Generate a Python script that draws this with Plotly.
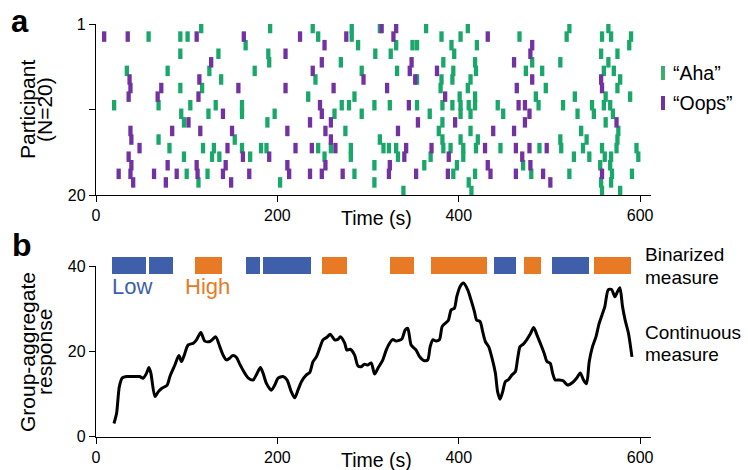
import plotly.graph_objects as go

# ---------------- data ----------------
# Panel a: event times (s) per participant row (1..20)
aha_rows = [
    [116, 192, 239, 282, 313, 364, 410, 522, 565],
    [58, 93, 101, 245, 282, 381, 402, 467, 519, 558, 568, 590],
    [165, 289, 331, 349, 354, 392, 420, 588],
    [93, 135, 190, 308, 325, 395, 557, 575],
    [191, 270, 383, 418, 481, 512, 565],
    [34, 79, 125, 175, 293, 332, 394, 419, 474, 492, 560, 571],
    [138, 242, 354, 381, 393, 413, 578],
    [93, 117, 380, 410, 496, 575],
    [234, 285, 401, 418, 485, 528, 562, 589],
    [20, 69, 104, 132, 161, 271, 279, 307, 324, 354, 382, 393, 402, 411, 418, 443, 488, 515, 547, 560, 567],
    [94, 124, 161, 197, 263, 293, 368, 402, 413, 449, 531, 549, 570],
    [97, 189, 382, 562],
    [275, 378, 413, 535, 576],
    [69, 153, 313, 382, 402, 421, 512, 541, 575],
    [81, 118, 130, 161, 182, 188, 245, 259, 281, 317, 323, 331, 383, 391, 405, 419, 446, 489, 513, 537, 558, 574, 596],
    [97, 128, 136, 170, 252, 281, 333, 369, 405, 527, 544, 561, 568, 598],
    [307, 362, 398, 471, 556, 567],
    [100, 123, 285, 394, 418, 480, 522, 569, 591],
    [113, 203, 307, 411, 557, 568],
    [339, 414, 558, 578],
]
oops_rows = [
    [315, 331],
    [9, 35, 111, 163, 225, 276, 328, 432],
    [252, 481],
    [209, 479],
    [127, 249, 348, 461],
    [239, 346, 376],
    [37, 114, 295, 352, 481, 557],
    [38, 72, 157, 209, 262, 321, 464, 558],
    [36, 68, 113, 385],
    [247, 345, 466, 473],
    [140, 249, 478],
    [102, 236, 259, 355, 396, 473, 574],
    [38, 84, 115, 150, 211, 253, 333, 438, 461],
    [39, 259],
    [48, 145, 220, 238, 264, 342, 370, 429, 463, 478, 497],
    [36, 162, 191, 340, 389, 470],
    [39, 79, 111, 143, 211, 253, 324, 432, 479],
    [25, 38, 64, 89, 112, 140, 169, 213, 236, 249, 272, 323, 353, 388, 435, 463, 493, 558],
    [41, 77, 149, 501],
    [],
]

# Panel b: binarized segments
bin_start = [17.6, 58.4, 109, 165.1, 183.9, 248.8, 323.7, 369.9, 439.3, 472.3, 503.1, 549.4]
bin_end = [54.7, 84.4, 138.4, 180.6, 237.5, 276.3, 350.2, 431.6, 463.5, 491, 543.9, 590.1]
bin_level = ['Low', 'Low', 'High', 'Low', 'Low', 'High', 'High', 'High', 'Low', 'High', 'Low', 'High']
bin_y = 40.1

# Panel b: continuous measure
cont_t = [19.8, 22.7, 25.7, 29, 33.8, 40, 48, 52, 55.8, 58.4, 60.5, 65, 68.6, 72.3, 78.5, 81.5, 87, 91.4,
          94.3, 97.3, 101.6, 107.2, 110.8, 115.6, 120, 125.5, 128, 132.1, 136.5, 140.2, 143.9, 147.5, 150.5,
          154.9, 158.5, 164, 167.7, 173.2, 176.9, 181.3, 184.2, 187.9, 193.4, 197.1, 200.7, 206.2, 210.6,
          215.4, 219.1, 222.7, 226.5, 232, 235.6, 239.3, 243, 246.6, 250.3, 254.6, 258.4, 263.1, 266.8,
          269.4, 274.1, 276.7, 280.4, 285.2, 288.8, 292.5, 296.1, 299.8, 303.5, 307.2, 310.8, 316.3, 320,
          323.7, 327.3, 331, 337.3, 340.9, 343.8, 347.5, 353, 356.7, 362.2, 365.8, 368.5, 371.4, 375.1,
          378.7, 381.7, 385.3, 388.6, 391.6, 395.2, 397.8, 401.5, 405.2, 409.9, 413.6, 417.3, 419.8, 423.5,
          426.4, 429.3, 433, 436.7, 440.4, 442.9, 445.6, 448.4, 451.4, 455, 458.8, 462.4, 465, 467.6,
          471.2, 474.9, 479, 482.6, 486.3, 490.7, 494.3, 497.3, 500.9, 503.5, 506.4, 510.8, 515.2, 520,
          525.5, 529.9, 534, 537.6, 540.9, 543.9, 547.5, 551.3, 554.9, 558.6, 561.1, 564.8, 568.5, 572.2,
          575.1, 577.7, 580.6, 583.5, 587.2, 591]
cont_v = [3.1, 5.5, 11.7, 13.8, 14.1, 14.1, 14.1, 13.7, 14.9, 16.2, 14.9, 9.4, 10.5, 11.3, 12.1, 14.1, 16.8, 19,
          17.6, 19.1, 21.5, 21.9, 22.7, 24.4, 22.4, 22.3, 22.7, 23.4, 21.1, 19.1, 18, 18.4, 19,
          18.6, 17, 14.9, 13.8, 13.3, 14.5, 16.2, 14.9, 12.5, 10.9, 12.1, 13.7, 14.1, 13.3,
          10.5, 9.1, 10.9, 12.9, 14.5, 15, 17.6, 18.7, 20.7, 22.7, 23.3, 24, 22.7, 22.8,
          23.4, 22, 20.3, 20.5, 19.1, 16.6, 16.4, 17, 16.8, 17.3, 14.7, 16, 18, 20.3,
          21.9, 22.8, 22.4, 22.9, 25, 25.4, 21.5, 20.3, 18.8, 17.8, 18, 21.1, 22.7, 22.4,
          22.7, 25.8, 26.6, 27.3, 29.7, 30.1, 32.8, 35.2, 36, 34.4, 32, 29.3, 27.3, 27,
          24.6, 22.3, 21.1, 18.4, 14.9, 10.5, 8.8, 10.5, 12.9, 13.4, 14.5, 15.2, 18.4, 21.1,
          21.7, 22.7, 24.1, 25.6, 23.8, 21.5, 19.5, 17.6, 17.2, 14.9, 13.3, 13.3, 13.1, 12.1,
          12.7, 13.7, 14.9, 13.3, 12.4, 17.6, 21.1, 23.4, 26.6, 28.9, 30.5, 34.4, 34.5, 32.8,
          34, 34.9, 30.5, 27.3, 24.2, 18.7]

x_ticks = [0, 200, 400, 600]
y_ticks_b = [0, 20, 40]

# ---------------- styles ----------------
W, H = 748, 470
GREEN = '#19a86a'
PURPLE = '#7232a2'
BLUE = '#3f5fab'
ORANGE = '#e87a25'
FONT = 'Liberation Sans, Arial, Helvetica, sans-serif'


def px(yp):
    return 1 - yp / H


def pxx(xp):
    return xp / W


fig = go.Figure()

# raster
for rows, color, name in [(aha_rows, GREEN, 'Aha'), (oops_rows, PURPLE, 'Oops')]:
    xs, ys = [], []
    for i, r in enumerate(rows):
        xs += r
        ys += [i + 1] * len(r)
    fig.add_trace(go.Scatter(
        x=xs, y=ys, mode='markers', name=name, xaxis='x', yaxis='y',
        marker=dict(symbol='line-ns', size=7.5, color=color,
                    line=dict(color=color, width=4.3)),
        hoverinfo='x+y', showlegend=False))

# binarized bars (own invisible axis pair so they can sit above the 40 tick)
bin_colors = [BLUE if lv == 'Low' else ORANGE for lv in bin_level]
fig.add_trace(go.Bar(
    x=[e - s for s, e in zip(bin_start, bin_end)], base=bin_start,
    y=[bin_y] * len(bin_start), orientation='h', width=4.15,
    marker=dict(color=bin_colors, line=dict(width=0)),
    xaxis='x3', yaxis='y3', showlegend=False))

# continuous
fig.add_trace(go.Scatter(
    x=cont_t, y=cont_v, mode='lines', xaxis='x2', yaxis='y2',
    line=dict(color='black', width=3, shape='spline', smoothing=0.7),
    showlegend=False))

axis_common = dict(showline=True, linecolor='black', linewidth=1.4, ticks='outside',
                   ticklen=6, tickwidth=1.4, tickcolor='black', showgrid=False,
                   zeroline=False, automargin=False,
                   tickfont=dict(family=FONT, size=16, color='black'))
hidden = dict(visible=False, showgrid=False, zeroline=False, automargin=False)

xdom = [pxx(96), pxx(651)]
y0_b, y40_b = 436.7, 266.0
ppu = (y0_b - y40_b) / 40.0
fig.update_layout(
    width=W, height=H, margin=dict(l=0, r=0, t=0, b=0, pad=0),
    paper_bgcolor='white', plot_bgcolor='white', bargap=0,
    font=dict(family=FONT, color='black'),
    xaxis=dict(domain=xdom, range=[0, 612], tickvals=x_ticks, anchor='y', **axis_common),
    yaxis=dict(domain=[px(195), px(24)], range=[20.466, 0.534],
               tickvals=[0.534, 10.5, 20.466], ticktext=['1', '', '20'], anchor='x', **axis_common),
    xaxis2=dict(domain=xdom, range=[0, 612], tickvals=x_ticks, anchor='y2', **axis_common),
    yaxis2=dict(domain=[px(y0_b), px(y40_b)], range=[0, 40], tickvals=y_ticks_b, anchor='x2',
                **axis_common),
    xaxis3=dict(domain=xdom, range=[0, 612], anchor='y3', **hidden),
    yaxis3=dict(domain=[px(y0_b - 37.5 * ppu), px(y0_b - 43 * ppu)], range=[37.5, 43], anchor='x3',
                **hidden),
)

ann = []


def text(x, y, s, size, color='black', xanchor='left', bold=False, angle=0):
    ann.append(dict(x=pxx(x), y=px(y), xref='paper', yref='paper', text=('<b>%s</b>' % s) if bold else s,
                    showarrow=False, xanchor=xanchor, yanchor='middle', textangle=angle,
                    font=dict(family=FONT, size=size, color=color)))


text(9, 21, 'a', 31, bold=True)
text(10, 245, 'b', 32, bold=True)
text(27, 110, 'Participant', 21, xanchor='center', angle=-90)
text(44, 110, '(N=20)', 21, xanchor='center', angle=-90)
text(27, 352, 'Group-aggregate', 21, xanchor='center', angle=-90)
text(44, 352, 'response', 21, xanchor='center', angle=-90)
text(376, 218, 'Time (s)', 19.5, xanchor='center')
text(376, 460, 'Time (s)', 19.5, xanchor='center')
text(671, 73, '“Aha”', 19.5)
text(671, 103, '“Oops”', 19.5)
text(110, 286, 'Low', 22, color=BLUE)
text(183, 286, 'High', 22, color=ORANGE)
text(643, 255, 'Binarized', 19)
text(643, 277, 'measure', 19)
text(643, 332, 'Continuous', 19)
text(643, 354, 'measure', 19)
fig.update_layout(annotations=ann)

fig.update_layout(shapes=[
    dict(type='rect', xref='paper', yref='paper', x0=pxx(661), x1=pxx(665), y0=px(80), y1=px(66),
         fillcolor='#3aae6a', line=dict(width=0)),
    dict(type='rect', xref='paper', yref='paper', x0=pxx(661), x1=pxx(665), y0=px(110), y1=px(96),
         fillcolor=PURPLE, line=dict(width=0)),
])

fig.write_html('out.html', config={'displayModeBar': False},
               post_script="document.body.style.margin='0';")
